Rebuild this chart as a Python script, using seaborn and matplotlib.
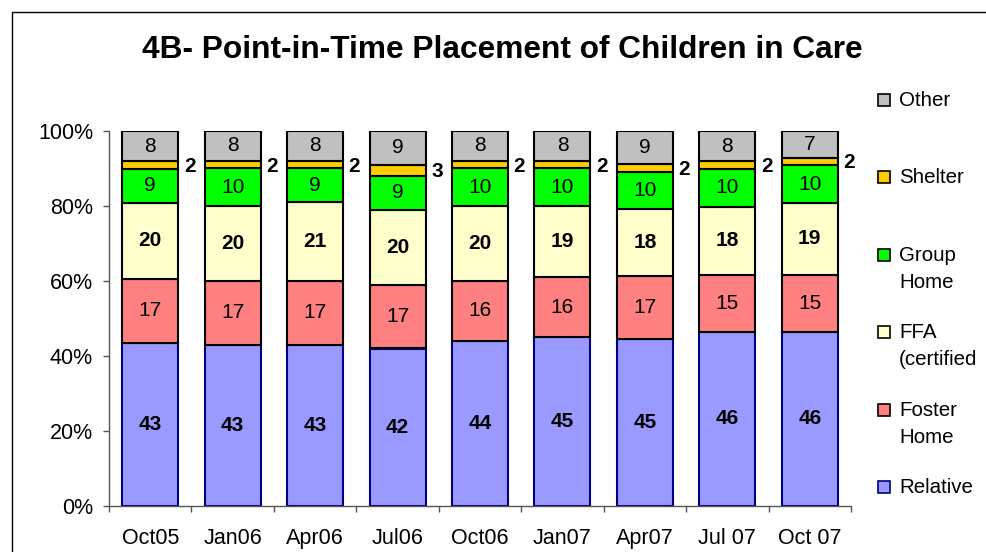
import numpy as np
import pandas as pd
import matplotlib
matplotlib.use("Agg")
import matplotlib.pyplot as plt
import seaborn as sns
from matplotlib.patches import Rectangle
from matplotlib.ticker import PercentFormatter, FixedLocator

periods = ["Oct05", "Jan06", "Apr06", "Jul06", "Oct06", "Jan07", "Apr07", "Jul 07", "Oct 07"]
relative = [43, 43, 43, 42, 44, 45, 45, 46, 46]
foster = [17, 17, 17, 17, 16, 16, 17, 15, 15]
ffa = [20, 20, 21, 20, 20, 19, 18, 18, 19]
group = [9, 10, 9, 9, 10, 10, 10, 10, 10]
shelter = [2, 2, 2, 3, 2, 2, 2, 2, 2]
other = [8, 8, 8, 9, 8, 8, 9, 8, 7]

series_names = ["Relative", "Foster Home", "FFA (certified", "Group Home", "Shelter", "Other"]
legend_labels = ["Relative", "Foster\nHome", "FFA\n(certified", "Group\nHome", "Shelter", "Other"]
colors = ["#9999FF", "#FF8080", "#FFFFCC", "#00FF00", "#FFCC00", "#C0C0C0"]
edge_colors = ["#000080", "black", "black", "black", "black", "black"]
label_bold = [True, False, True, False, True, False]

values = [relative, foster, ffa, group, shelter, other]

sns.set_style("white")
plt.rcParams["font.family"] = ["Liberation Sans", "DejaVu Sans"]
plt.rcParams["text.color"] = "black"
plt.rcParams["xtick.color"] = "black"
plt.rcParams["ytick.color"] = "black"

rows = []
for name, vals in zip(series_names, values):
    for p, v in zip(periods, vals):
        rows.append({"period": p, "type": name, "value": v})
df = pd.DataFrame(rows)
df["period"] = pd.Categorical(df["period"], categories=periods, ordered=True)

W, H = 986, 552
fig = plt.figure(figsize=(W / 100, H / 100), dpi=100)
ax = fig.add_axes([109 / W, 1 - 506 / H, (851 - 109) / W, (506 - 131) / H])

palette = dict(zip(series_names, colors))
sns.histplot(data=df, x="period", weights="value", hue="type",
             hue_order=series_names[::-1], multiple="fill", discrete=True,
             shrink=0.68, palette=palette, alpha=1, edgecolor="black",
             linewidth=1.5, ax=ax, legend=False)

# navy edges for Relative bars
rel_rgba = matplotlib.colors.to_rgba(colors[0])
for patch in ax.patches:
    if np.allclose(patch.get_facecolor(), rel_rgba, atol=0.01):
        patch.set_edgecolor(edge_colors[0])

ax.set_xlim(-0.5, len(periods) - 0.5)
ax.set_ylim(0, 1)
ax.set_xlabel("")
ax.set_ylabel("")
ax.yaxis.set_major_locator(FixedLocator([0, 0.2, 0.4, 0.6, 0.8, 1.0]))
ax.yaxis.set_major_formatter(PercentFormatter(1.0, decimals=0))
ax.set_xticks(range(len(periods)))
ax.set_xticklabels(periods)
ax.xaxis.set_minor_locator(FixedLocator(np.arange(-0.5, len(periods), 1.0)))
ax.tick_params(axis="x", which="major", direction="in", length=4, width=1,
               color="#555555", labelcolor="black", pad=15.5, labelsize=15.5)
ax.tick_params(axis="x", which="minor", direction="out", length=4, width=1,
               color="#555555", bottom=True)
ax.tick_params(axis="y", which="major", direction="out", length=4.5, width=1,
               color="#555555", labelcolor="black", pad=7, labelsize=15.5, left=True)
for s in ["top", "right"]:
    ax.spines[s].set_visible(False)
for s in ["left", "bottom"]:
    ax.spines[s].set_color("#555555")
    ax.spines[s].set_linewidth(1)
ax.grid(False)

# value labels
arr = np.array(values, dtype=float)
frac = arr / arr.sum(axis=0)
tops = np.cumsum(frac, axis=0)
bottoms = tops - frac
for k, name in enumerate(series_names):
    for i in range(len(periods)):
        yc = bottoms[k, i] + frac[k, i] / 2
        txt = str(values[k][i])
        weight = "bold" if label_bold[k] else "normal"
        if name == "Shelter":
            ax.annotate(txt, (i + 0.34, yc), xytext=(4, -1), textcoords="offset points",
                        ha="left", va="center", fontsize=15, fontweight=weight,
                        color="black")
        else:
            ax.text(i, yc, txt, ha="center", va="center", fontsize=15,
                    fontweight=weight, color="black")

# legend (manual, evenly spaced like the original)
leg_top = 100
leg_step = 77.4
for j, (lab, col, ec) in enumerate(zip(legend_labels[::-1], colors[::-1], edge_colors[::-1])):
    yc = leg_top + j * leg_step
    fig.patches.append(Rectangle((878 / W, 1 - (yc + 6) / H), 12 / W, 12 / H,
                                 transform=fig.transFigure, facecolor=col,
                                 edgecolor=ec, linewidth=1.2))
    fig.text(899 / W, 1 - (yc - 9) / H, lab, ha="left", va="top",
             fontsize=14.8, linespacing=1.55, color="black")

fig.text(502 / W, 1 - 50 / H, "4B- Point-in-Time Placement of Children in Care",
         ha="center", va="center", fontsize=22.8, fontweight="bold", color="black")

fig.patches.append(Rectangle((12 / W, -0.1), 1.2, (H - 12) / H + 0.1,
                             transform=fig.transFigure, fill=False,
                             edgecolor="black", linewidth=1))

fig.savefig("out.png", dpi=100)
